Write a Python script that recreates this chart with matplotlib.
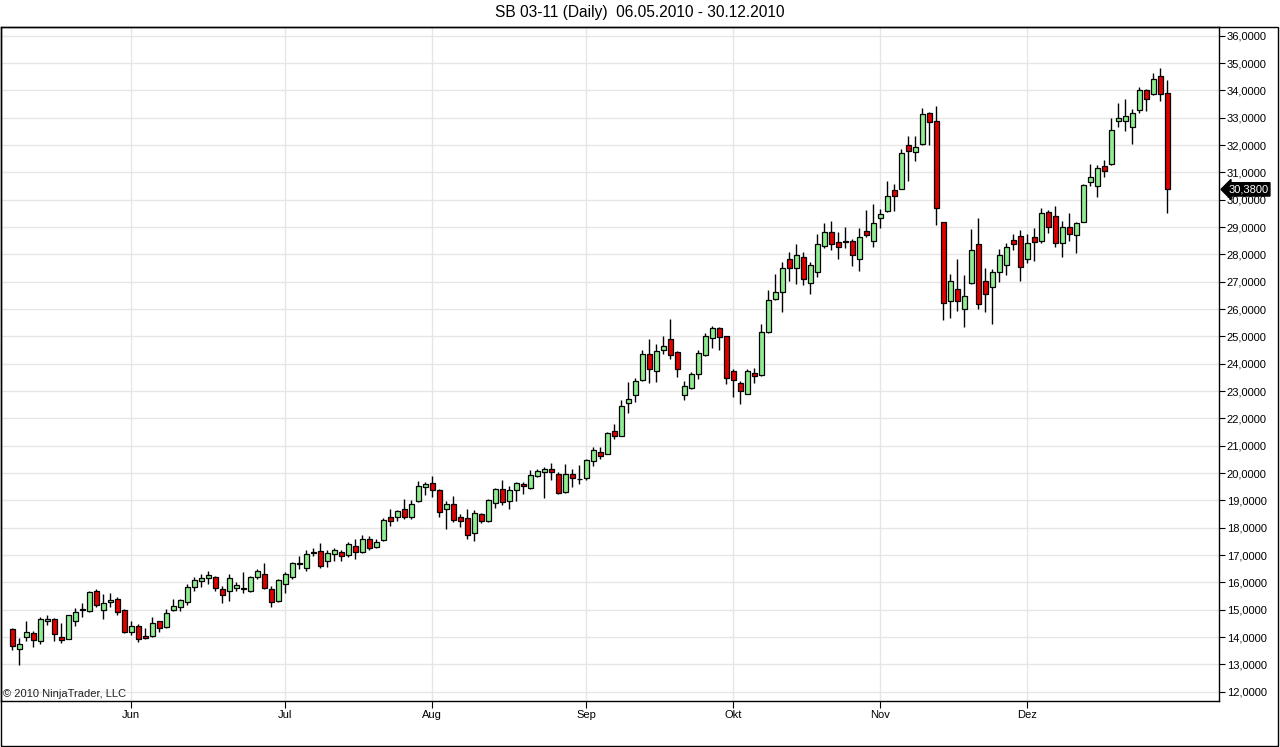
import matplotlib
matplotlib.use("Agg")
import matplotlib.pyplot as plt
from matplotlib.patches import Rectangle
from matplotlib.ticker import FuncFormatter, MultipleLocator
from matplotlib.transforms import blended_transform_factory

plt.rcParams['font.family'] = ['Liberation Sans', 'DejaVu Sans']

# SB 03-11 daily OHLC, 06.05.2010 - 30.12.2010 (one value per trading day)
opens = [
    14.30, 13.56, 14.00, 14.15, 13.87, 14.58, 14.66, 14.00, 13.93, 14.59,
    14.99, 14.97, 15.68, 14.99, 15.28, 15.40, 14.99, 14.17, 14.42, 14.05,
    14.03, 14.57, 14.38, 14.99, 15.09, 15.27, 15.82, 16.04, 16.15, 16.21,
    15.76, 15.68, 15.79, 15.80, 15.70, 16.19, 16.31, 15.76, 15.31, 15.95,
    16.21, 16.68, 16.53, 17.08, 17.14, 16.80, 17.04, 17.11, 17.02, 17.34,
    17.11, 17.59, 17.29, 17.56, 18.41, 18.39, 18.67, 18.41, 18.97, 19.49,
    19.64, 19.39, 18.69, 18.88, 18.39, 18.36, 17.80, 18.51, 18.23, 18.90,
    19.43, 18.97, 19.37, 19.61, 19.46, 19.90, 20.04, 20.16, 19.98, 19.30,
    19.98, 19.77, 19.83, 20.46, 20.76, 20.71, 21.53, 21.37, 22.58, 22.85,
    23.40, 24.37, 23.73, 24.52, 24.89, 24.43, 22.85, 23.13, 23.62, 24.31,
    24.96, 25.30, 25.01, 23.75, 23.31, 22.91, 23.65, 23.58, 25.17, 26.38,
    26.61, 27.82, 27.51, 27.92, 26.94, 27.34, 28.32, 28.83, 28.46, 28.50,
    28.50, 27.82, 28.84, 28.50, 29.32, 29.59, 30.36, 30.39, 32.00, 31.74,
    32.04, 33.17, 32.89, 29.17, 26.30, 26.72, 26.02, 26.94, 28.37, 27.01,
    26.82, 27.37, 27.63, 28.53, 28.67, 27.82, 28.62, 28.50, 29.54, 29.41,
    28.43, 29.01, 28.70, 29.20, 30.66, 30.52, 31.25, 31.31, 32.90, 32.90,
    32.68, 33.27, 34.02, 33.86, 34.54, 33.90,
]
highs = [
    14.33, 13.97, 14.58, 14.21, 14.72, 14.82, 14.70, 14.52, 14.81, 15.07,
    15.26, 15.68, 15.76, 15.58, 15.62, 15.46, 15.03, 14.60, 14.46, 14.33,
    14.75, 14.60, 15.03, 15.40, 15.40, 15.95, 16.19, 16.31, 16.41, 16.25,
    15.88, 16.31, 16.01, 16.37, 16.25, 16.49, 16.70, 15.88, 16.13, 16.37,
    16.74, 16.95, 17.19, 17.26, 17.44, 17.17, 17.26, 17.17, 17.47, 17.59,
    17.72, 17.69, 17.59, 18.36, 18.67, 18.66, 19.06, 19.00, 19.70, 19.67,
    19.88, 19.43, 18.97, 19.15, 18.51, 18.69, 18.66, 18.53, 19.06, 19.46,
    19.73, 19.51, 19.67, 19.67, 20.10, 20.16, 20.22, 20.38, 20.04, 20.32,
    20.16, 20.28, 20.53, 20.95, 20.95, 21.50, 21.78, 22.69, 23.34, 23.49,
    24.52, 24.89, 24.74, 25.01, 25.63, 24.47, 23.36, 23.70, 24.52, 25.14,
    25.37, 25.33, 25.03, 23.82, 23.37, 23.82, 23.86, 25.45, 26.69, 27.28,
    27.71, 28.10, 28.38, 28.10, 27.73, 28.75, 29.16, 29.24, 28.81, 28.99,
    28.55, 28.95, 29.63, 29.85, 29.65, 30.69, 30.57, 31.85, 32.34, 32.34,
    33.35, 33.20, 33.44, 29.20, 27.30, 27.82, 27.24, 28.92, 29.32, 27.52,
    27.46, 28.20, 28.40, 28.75, 28.89, 28.75, 28.95, 29.69, 29.63, 29.77,
    29.23, 29.50, 29.20, 30.57, 31.30, 31.27, 31.46, 32.98, 33.53, 33.68,
    33.31, 34.11, 34.05, 34.63, 34.82, 34.39,
]
lows = [
    13.53, 12.98, 13.84, 13.62, 13.75, 14.45, 13.84, 13.80, 13.93, 14.41,
    14.72, 14.91, 15.09, 14.65, 15.09, 14.82, 14.15, 14.09, 13.81, 13.94,
    13.99, 14.17, 14.33, 14.97, 14.94, 15.19, 15.70, 15.85, 15.95, 15.68,
    15.24, 15.31, 15.68, 15.60, 15.64, 16.13, 15.76, 15.09, 15.27, 15.60,
    16.13, 16.49, 16.43, 16.95, 16.53, 16.58, 16.78, 16.80, 16.92, 16.86,
    17.07, 17.20, 17.26, 17.51, 18.08, 18.24, 18.33, 18.33, 18.94, 19.18,
    19.12, 18.39, 17.96, 18.21, 18.02, 17.59, 17.51, 18.19, 18.21, 18.73,
    18.82, 18.69, 18.97, 19.24, 19.43, 19.85, 19.10, 19.73, 19.24, 19.27,
    19.49, 19.59, 19.76, 20.26, 20.53, 20.68, 21.26, 21.34, 22.20, 22.60,
    23.36, 23.30, 23.34, 24.37, 24.19, 23.52, 22.66, 23.09, 23.46, 24.29,
    24.59, 24.52, 23.27, 22.79, 22.52, 22.88, 23.29, 23.56, 25.14, 26.33,
    25.90, 27.02, 26.90, 26.88, 26.54, 27.18, 28.22, 28.18, 27.85, 28.22,
    27.59, 27.40, 28.65, 28.26, 28.95, 29.56, 29.60, 30.38, 30.70, 31.40,
    32.01, 32.01, 29.08, 25.59, 25.69, 25.94, 25.33, 26.91, 25.99, 25.90,
    25.46, 27.00, 27.24, 28.18, 27.04, 27.70, 27.77, 28.40, 28.80, 28.28,
    27.89, 28.50, 28.04, 29.17, 30.50, 30.11, 30.82, 31.27, 32.66, 32.53,
    32.04, 33.19, 33.25, 33.84, 33.60, 29.53,
]
closes = [
    13.69, 13.75, 14.20, 13.89, 14.66, 14.66, 14.11, 13.89, 14.81, 14.92,
    15.03, 15.66, 15.18, 15.25, 15.34, 14.92, 14.17, 14.39, 13.93, 13.95,
    14.52, 14.33, 14.88, 15.14, 15.36, 15.85, 16.07, 16.17, 16.28, 15.80,
    15.55, 16.17, 15.92, 15.77, 16.21, 16.41, 15.80, 15.27, 16.07, 16.29,
    16.70, 16.72, 17.04, 17.10, 16.60, 17.08, 17.17, 16.96, 17.39, 17.12,
    17.59, 17.26, 17.47, 18.29, 18.24, 18.63, 18.41, 18.88, 19.51, 19.59,
    19.39, 18.57, 18.88, 18.29, 18.24, 17.75, 18.53, 18.24, 19.00, 19.43,
    18.94, 19.39, 19.64, 19.51, 19.94, 20.07, 20.16, 20.04, 19.27, 19.98,
    19.82, 19.80, 20.49, 20.83, 20.61, 21.47, 21.37, 22.44, 22.72, 23.36,
    24.37, 23.82, 24.47, 24.64, 24.31, 23.79, 23.20, 23.64, 24.41, 25.01,
    25.30, 24.97, 23.49, 23.40, 23.00, 23.74, 23.57, 25.17, 26.35, 26.61,
    27.49, 27.51, 27.98, 27.09, 27.61, 28.37, 28.83, 28.38, 28.26, 28.47,
    27.98, 28.62, 28.72, 29.14, 29.47, 30.15, 30.15, 31.70, 31.78, 31.92,
    33.13, 32.84, 29.69, 26.24, 27.04, 26.30, 26.49, 28.18, 26.18, 26.55,
    27.34, 27.98, 28.26, 28.37, 27.55, 28.40, 28.46, 29.53, 29.01, 28.43,
    28.99, 28.73, 29.14, 30.54, 30.82, 31.15, 31.04, 32.56, 32.98, 33.07,
    33.19, 34.02, 33.68, 34.41, 33.86, 30.38,
]

# first trading day of each month (bar index)
month_labels = ['Jun', 'Jul', 'Aug', 'Sep', 'Okt', 'Nov', 'Dez']
month_idx = [17, 39, 60, 82, 103, 124, 145]

up_color = '#90EE90'
down_color = '#E00000'
grid_color = '#E6E6E6'

W, H = 1280, 747
fig = plt.figure(figsize=(W / 100, H / 100), dpi=100)
fig.patch.set_facecolor('white')

# plot area in pixels: x 1..1219, y 27..701
ax = fig.add_axes([1 / W, (H - 701.3) / H, 1218 / W, 674 / H])

n = len(closes)
xs = list(range(n))
bottoms = [min(o, c) for o, c in zip(opens, closes)]
heights = [max(abs(c - o), 0.02) for o, c in zip(opens, closes)]
colors = [up_color if c >= o else down_color for o, c in zip(opens, closes)]

ax.vlines(xs, lows, highs, color='black', lw=1.0, zorder=2)
ax.bar(xs, heights, bottom=bottoms, width=0.72, color=colors,
       edgecolor='black', linewidth=0.9, zorder=3)

ax.set_xlim(-1.62, 172.4)
ax.set_ylim(11.65, 36.31)

# grid
ax.yaxis.set_major_locator(MultipleLocator(1))
ax.set_xticks(month_idx)
ax.set_xticklabels(month_labels)
ax.grid(True, color=grid_color, lw=1.0, zorder=0)
ax.set_axisbelow(True)

ax.yaxis.tick_right()
ax.yaxis.set_major_formatter(FuncFormatter(lambda v, _: f"{v:.4f}".replace('.', ',')))
ax.tick_params(axis='y', direction='out', length=4, width=0.8, pad=1.5,
               labelsize=8, colors='black')
ax.tick_params(axis='x', direction='out', length=5, width=0.8, pad=1.5,
               labelsize=8, colors='black')

for sp in ax.spines.values():
    sp.set_color('black')
    sp.set_linewidth(1.0)

# last price marker
trans = blended_transform_factory(ax.transAxes, ax.transData)
ax.text(1.0075, closes[-1], f"{closes[-1]:.4f}".replace('.', ','), transform=trans,
        ha='left', va='center', fontsize=8, color='white', zorder=5,
        bbox=dict(boxstyle='larrow,pad=0.15', fc='black', ec='black'),
        clip_on=False)

ax.text(0.002, 0.004, '\u00a9 2010 NinjaTrader, LLC', transform=ax.transAxes,
        ha='left', va='bottom', fontsize=8, color='#222222')

# outer frame
fig.add_artist(Rectangle((1 / W, 1 / H), 1277 / W, 719 / H, fill=False,
                         edgecolor='black', lw=1.0, transform=fig.transFigure))

fig.text(0.5, 1 - 13 / H, 'SB 03-11 (Daily)  06.05.2010 - 30.12.2010',
         ha='center', va='center', fontsize=11.2)

fig.savefig('out.png', dpi=100, facecolor='white')
